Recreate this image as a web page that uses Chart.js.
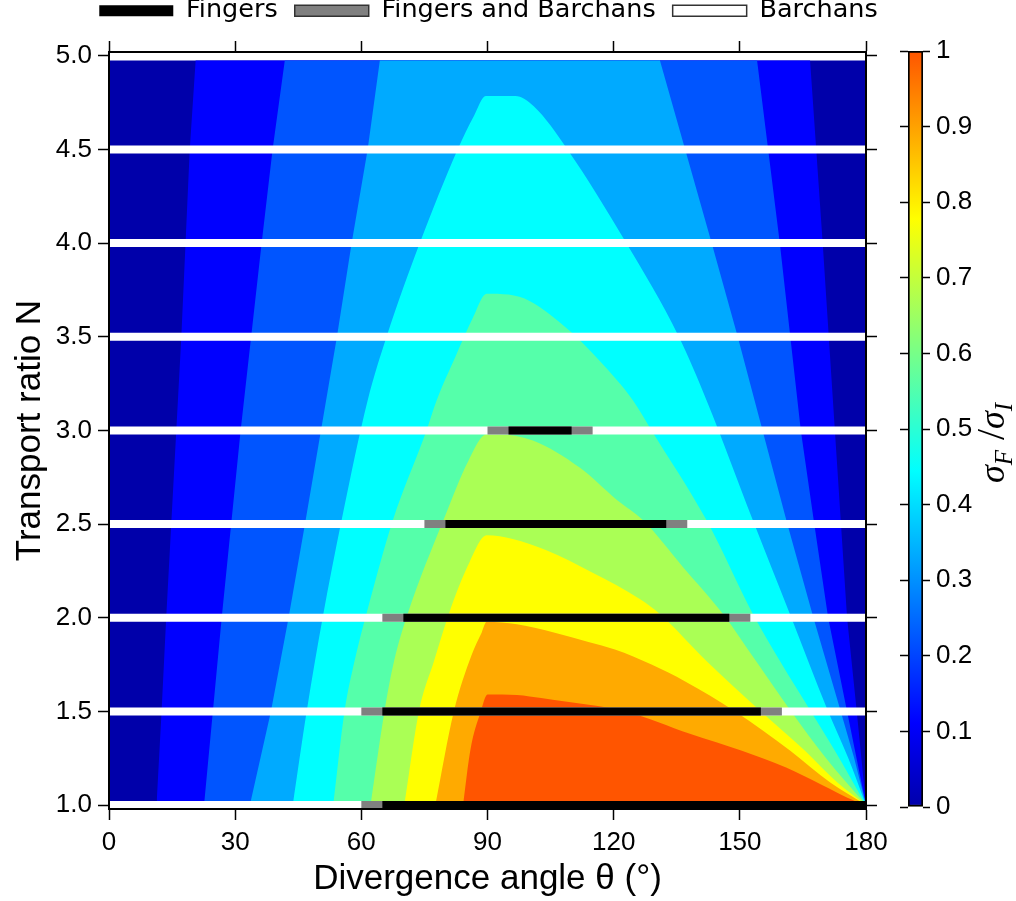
<!DOCTYPE html>
<html>
<head>
<meta charset="utf-8">
<title>Dune type map</title>
<script src="https://cdn.jsdelivr.net/npm/chart.js"></script>
<style>
  html, body { margin: 0; padding: 0; background: #fff; overflow: hidden; }
  #wrap { position: relative; width: 1016px; height: 901px; overflow: hidden; }
  #mainChart { position: absolute; left: 0; top: -19px; }
  #barChart { position: absolute; left: 880px; top: 0; }
</style>
</head>
<body>
<div id="wrap">
  <canvas id="mainChart" width="977" height="920"></canvas>
  <canvas id="barChart" width="136" height="901"></canvas>
</div>
<script>
// rows of the dune-type diagram (transport ratio N)
const rowN = [1.0, 1.5, 2.0, 2.5, 3.0, 3.5, 4.0, 4.5, 5.0];
const barchansFrom = [0, 0, 0, 0, 0, 0, 0, 0, 0];
const barchansTo = [180, 180, 180, 180, 180, 180, 180, 180, 180];
const mixedFrom = [60, 60, 65, 75, 90, null, null, null, null];
const mixedTo = [180, 160, 152.5, 137.5, 115, null, null, null, null];
const fingersFrom = [65, 65, 70, 80, 95, null, null, null, null];
const fingersTo = [180, 155, 147.5, 132.5, 110, null, null, null, null];

// contour levels of sigma_F / sigma_I, each edge is [theta, N]
const levels = [0, 0.1, 0.2, 0.3, 0.4, 0.5, 0.6, 0.7, 0.8, 0.9];
const edge00 = [[0, 4.975], [180, 4.975]];
const edge10 = [[11.3, 1.0], [12.5, 1.5], [13.6, 2.0], [14.8, 2.5], [16.0, 3.0], [17.2, 3.5], [18.2, 4.0], [19.2, 4.5], [20.6, 4.975],
                [166.7, 4.975], [169.7, 4.0], [172.6, 3.0], [175.5, 2.0], [177.8, 1.5], [180, 1.0]];
const edge20 = [[22.6, 1.0], [26.8, 2.0], [31.3, 3.0], [36.3, 4.0], [38.9, 4.5], [41.8, 4.975],
                [154.1, 4.975], [159.5, 4.0], [164.5, 3.0], [167.7, 2.5], [171.0, 2.0], [175.5, 1.5], [180, 1.0]];
const edge30 = [[33.5, 1.0], [38.5, 1.5], [42.7, 2.0], [46.6, 2.5], [50.4, 3.0], [54.2, 3.5], [57.7, 4.0], [61.5, 4.5], [64.4, 4.975],
                [131.0, 4.975], [137.0, 4.5], [143.3, 4.0], [149.5, 3.5], [155.4, 3.0], [161.3, 2.5], [167.5, 2.0],
                [174.0, 1.5], [177.2, 1.25], [180, 1.0]];
const edge40 = [[43.7, 1.0], [47.0, 1.5], [50.8, 2.0], [55.3, 2.52], [61.5, 3.16], [66.0, 3.5], [73.9, 4.0], [82.9, 4.5], [86.8, 4.68], [89.6, 4.785],
                [96.6, 4.785], [101.0, 4.73], [109.0, 4.5], [123.0, 4.0], [135.5, 3.5], [142.1, 3.16], [153.1, 2.52],
                [161.9, 2.02], [171.0, 1.5], [175.8, 1.25], [180, 1.0]];
const edge50 = [[53.3, 1.0], [56.0, 1.5], [58.4, 1.77], [61.2, 2.02], [67.5, 2.52], [75.5, 3.0], [77.9, 3.16], [82.5, 3.4], [86.5, 3.6], [89.8, 3.73],
                [95.0, 3.725], [100.1, 3.69], [109.6, 3.53], [116.7, 3.37], [124.6, 3.16], [129.0, 3.0], [142.1, 2.52], [153.1, 2.02],
                [159.5, 1.77], [166.9, 1.5], [172.6, 1.29], [180, 1.0]];
const edge60 = [[62.2, 1.0], [65.5, 1.5], [67.8, 1.77], [71.0, 2.02], [79.5, 2.52], [85.5, 2.84], [89.8, 2.98],
                [92.2, 2.98], [100.8, 2.946], [112.0, 2.80], [120.7, 2.63], [127.0, 2.52], [136.5, 2.27], [146.0, 2.02],
                [153.8, 1.77], [162.2, 1.5], [170.5, 1.25], [180, 1.0]];
const edge70 = [[70.2, 1.0], [73.7, 1.5], [77.3, 1.77], [80.8, 2.02], [85.8, 2.3], [89.8, 2.44],
                [96.0, 2.42], [104.0, 2.36], [115.0, 2.24], [126.2, 2.10], [131.0, 2.02], [142.0, 1.77], [155.0, 1.5],
                [165.5, 1.29], [173.2, 1.12], [180, 1.0]];
const edge80 = [[77.6, 1.0], [82.0, 1.5], [86.2, 1.8], [88.6, 1.92], [89.8, 1.978],
                [97.0, 1.965], [106.0, 1.92], [114.0, 1.87], [120.3, 1.83], [129.0, 1.75], [137.0, 1.66], [148.9, 1.5],
                [162.0, 1.29], [171.5, 1.12], [180, 1.0]];
const edge90 = [[84.2, 1.0], [85.9, 1.29], [88.4, 1.5], [90.0, 1.59],
                [97.0, 1.588], [100.0, 1.58], [105.5, 1.5625], [122.7, 1.5], [138.3, 1.38], [150.5, 1.29], [161.0, 1.2],
                [169.3, 1.11], [177.5, 1.02], [180, 1.0]];
const edges = [edge00, edge10, edge20, edge30, edge40, edge50, edge60, edge70, edge80, edge90];

const bandColors = ['#0000aa', '#0000ff', '#0055ff', '#00aaff', '#00ffff', '#55ffaa', '#aaff55', '#ffff00', '#ffaa00', '#ff5500'];

Chart.defaults.font.family = "'Liberation Sans', Arial, sans-serif";
Chart.defaults.color = '#000';

function segments(from, to) {
    const pts = [];
    rowN.forEach((n, i) => {
        if (from[i] == null) return;
        pts.push({x: from[i], y: n}, {x: to[i], y: n}, {x: to[i], y: null});
    });
    return pts;
}

const rowStyle = {
    borderWidth: 8,
    borderCapStyle: 'butt',
    pointRadius: 0,
    fill: false,
    tension: 0,
    spanGaps: false,
    clip: 0
};

// outer bands are cut flat by the top of the data, so keep straight edges there
const bandSets = edges.map((edge, i) => ({
    label: 'level ' + levels[i],
    data: edge.map(p => ({x: p[0], y: p[1]})),
    borderWidth: 0,
    pointRadius: 0,
    tension: 0,
    cubicInterpolationMode: i >= 4 ? 'monotone' : 'default',
    fill: 'start',
    backgroundColor: bandColors[i],
    order: 20 - i
}));

const legendItems = [
    {text: 'Fingers', fillStyle: '#000000', strokeStyle: '#000000', lineWidth: 0},
    {text: 'Fingers and Barchans', fillStyle: '#808080', strokeStyle: '#333333', lineWidth: 1.5},
    {text: 'Barchans', fillStyle: '#ffffff', strokeStyle: '#333333', lineWidth: 1.5}
];

const axisLine = {display: true, color: '#000', width: 2, z: 1};
const tickMarks = {drawOnChartArea: false, drawTicks: true, tickLength: 11, color: '#000', tickColor: '#000', tickWidth: 1.5};
const tickFont = {size: 26};

new Chart(document.getElementById('mainChart'), {
    type: 'line',
    data: {
        datasets: [
            {...rowStyle, label: 'Fingers', data: segments(fingersFrom, fingersTo), borderColor: '#000000', backgroundColor: '#000000', order: 1},
            {...rowStyle, label: 'Fingers and Barchans', data: segments(mixedFrom, mixedTo), borderColor: '#808080', backgroundColor: '#808080', order: 2},
            {...rowStyle, label: 'Barchans', data: segments(barchansFrom, barchansTo), borderColor: '#ffffff', backgroundColor: '#ffffff', order: 3},
            ...bandSets
        ]
    },
    options: {
        responsive: false,
        animation: false,
        events: [],
        layout: {padding: 0},
        plugins: {
            tooltip: {enabled: false},
            legend: {
                position: 'top',
                align: 'center',
                labels: {
                    boxWidth: 74,
                    boxHeight: 11,
                    padding: 17,
                    color: '#000',
                    font: {family: "'DejaVu Sans', sans-serif", size: 25.5},
                    generateLabels: () => legendItems.map((item, i) => ({...item, hidden: false, datasetIndex: i}))
                }
            }
        },
        scales: {
            x: {
                type: 'linear',
                position: 'bottom',
                min: 0,
                max: 180,
                grid: tickMarks,
                border: axisLine,
                ticks: {stepSize: 30, maxRotation: 0, padding: 7, font: tickFont, color: '#000'},
                title: {display: true, text: 'Divergence angle θ (°)', color: '#000', font: {size: 35}, padding: {top: 0, bottom: 1}},
                afterFit: (scale) => { scale.height = 92; }
            },
            x2: {
                type: 'linear',
                position: 'top',
                min: 0,
                max: 180,
                grid: tickMarks,
                border: axisLine,
                ticks: {stepSize: 30, display: false},
                afterFit: (scale) => { scale.height = 18.5; }
            },
            y: {
                type: 'linear',
                position: 'left',
                min: 0.979,
                max: 5.020,
                grid: tickMarks,
                border: axisLine,
                ticks: {
                    stepSize: 0.5,
                    includeBounds: false,
                    padding: 6,
                    font: tickFont,
                    color: '#000',
                    callback: (value) => value.toFixed(1)
                },
                title: {display: true, text: 'Transport ratio N', color: '#000', font: {size: 35}, padding: {top: 9, bottom: 0}},
                afterFit: (scale) => { scale.width = 109; }
            },
            y2: {
                type: 'linear',
                position: 'right',
                min: 0.979,
                max: 5.020,
                grid: tickMarks,
                border: axisLine,
                ticks: {stepSize: 0.5, includeBounds: false, display: false},
                afterFit: (scale) => { scale.width = 111; }
            }
        }
    }
});

// colorbar label sigma_F / sigma_I, drawn as text pieces
const colorbarLabel = {
    id: 'colorbarLabel',
    afterDraw(chart) {
        const {ctx} = chart;
        const parts = [
            {t: 'σ', font: 'italic 36px "Liberation Serif", serif', dy: 0},
            {t: 'F', font: 'italic 25px "Liberation Serif", serif', dy: 8},
            {t: ' /', font: '40px "Liberation Serif", serif', dy: 0},
            {t: 'σ', font: 'italic 36px "Liberation Serif", serif', dy: 0},
            {t: 'I', font: 'italic 25px "Liberation Serif", serif', dy: 8}
        ];
        ctx.save();
        ctx.translate(124, 443);
        ctx.rotate(-Math.PI / 2);
        ctx.fillStyle = '#000';
        ctx.textBaseline = 'alphabetic';
        ctx.textAlign = 'left';
        let total = 0;
        parts.forEach(p => {
            ctx.font = p.font;
            p.w = ctx.measureText(p.t).width;
            total += p.w;
        });
        let x = -total / 2;
        parts.forEach(p => {
            ctx.font = p.font;
            ctx.fillText(p.t, x, p.dy);
            x += p.w;
        });
        ctx.restore();
    }
};

new Chart(document.getElementById('barChart'), {
    type: 'bar',
    data: {
        labels: [''],
        datasets: [{
            label: 'σF/σI',
            data: [[0, 1]],
            barPercentage: 1,
            categoryPercentage: 1,
            borderColor: '#000',
            borderWidth: 2,
            borderSkipped: false,
            backgroundColor: (context) => {
                const {chart} = context;
                const {ctx, chartArea, scales} = chart;
                if (!chartArea) return null;
                const g = ctx.createLinearGradient(0, scales.y.getPixelForValue(0), 0, scales.y.getPixelForValue(1));
                bandColors.forEach((c, i) => g.addColorStop(i / (bandColors.length - 1), c));
                return g;
            }
        }]
    },
    plugins: [colorbarLabel],
    options: {
        responsive: false,
        animation: false,
        events: [],
        layout: {padding: {top: 51, bottom: 94, left: 0, right: 0}},
        plugins: {
            legend: {display: false},
            tooltip: {enabled: false}
        },
        scales: {
            x: {type: 'category', display: false},
            y: {
                position: 'right',
                min: 0,
                max: 1,
                grid: {drawOnChartArea: false, drawTicks: true, tickLength: 7, color: '#000', tickColor: '#000', tickWidth: 1.5},
                border: {display: false},
                ticks: {
                    stepSize: 0.1,
                    padding: 6,
                    font: tickFont,
                    color: '#000',
                    callback: (value) => (Math.abs(value) < 1e-9 || Math.abs(value - 1) < 1e-9) ? String(Math.round(value)) : value.toFixed(1)
                },
                afterFit: (scale) => { scale.width = 93; }
            },
            yl: {
                position: 'left',
                min: 0,
                max: 1,
                grid: {drawOnChartArea: false, drawTicks: true, tickLength: 8, color: '#000', tickColor: '#000', tickWidth: 1.5},
                border: {display: false},
                ticks: {stepSize: 0.1, display: false},
                afterFit: (scale) => { scale.width = 28; }
            }
        }
    }
});
</script>
</body>
</html>
